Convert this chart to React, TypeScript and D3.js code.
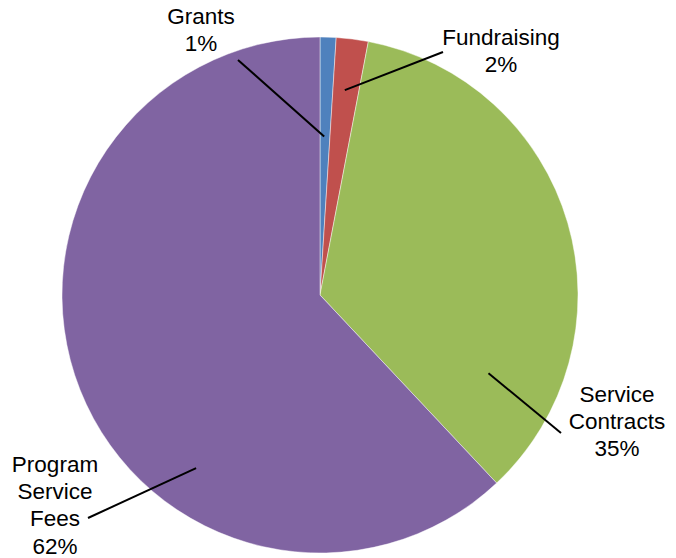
import React from "react";
import * as d3 from "d3";

// Revenue sources, in pie order (clockwise from 12 o'clock)
const categories = ["Grants", "Fundraising", "Service Contracts", "Program Service Fees"];
const values = [1, 2, 35, 62];
const colors = ["#4F81BD", "#C0504D", "#9BBB59", "#8064A2"];

// label text lines (the last line is the percentage)
const labelLines = [["Grants"], ["Fundraising"], ["Service", "Contracts"], ["Program", "Service", "Fees"]];

interface Slice {
  name: string;
  value: number;
}

// manual label placement (Excel style, labels dragged outside)
const labelLayout = [
  { x: 201, y: 24, lineAngle: 1.5, lineR: 0.615, lineEnd: [238, 60] },
  { x: 501, y: 45, lineAngle: 6.9, lineR: 0.8, lineEnd: [443, 52] },
  { x: 617, y: 402, lineAngle: 114.9, lineR: 0.72, lineEnd: [561, 433] },
  { x: 55, y: 472, lineAngle: 215.6, lineR: 0.825, lineEnd: [88, 518] },
];

export default function App() {
  const width = 676;
  const height = 558;
  const cx = 320;
  const cy = 295;
  const radius = 258;

  const data: Slice[] = categories.map((c, i) => ({ name: c, value: values[i] }));
  const total = d3.sum(values);

  const pie = d3
    .pie<Slice>()
    .value((d) => d.value)
    .sort(null);
  const arcs = pie(data);

  const arc = d3.arc<d3.PieArcDatum<Slice>>().innerRadius(0).outerRadius(radius);

  const lineH = 27.2;

  return (
    <svg
      width={width}
      height={height}
      style={{ position: "absolute", left: 0, top: 0, background: "#fff" }}
      fontFamily="'Liberation Sans', Arial, sans-serif"
    >
      <g transform={`translate(${cx},${cy})`}>
        {arcs.map((a, i) => (
          <path
            key={a.data.name}
            d={arc(a) || ""}
            fill={colors[i]}
            stroke="#ffffff"
            strokeOpacity={0.6}
            strokeWidth={0.75}
          />
        ))}
      </g>
      {labelLayout.map((l, i) => {
        const ang = (l.lineAngle * Math.PI) / 180;
        const x1 = cx + Math.sin(ang) * radius * l.lineR;
        const y1 = cy - Math.cos(ang) * radius * l.lineR;
        return (
          <line
            key={"ln" + i}
            x1={x1}
            y1={y1}
            x2={l.lineEnd[0]}
            y2={l.lineEnd[1]}
            stroke="#000"
            strokeWidth={2}
          />
        );
      })}
      {labelLayout.map((l, i) => {
        const pct = d3.format(".0%")(values[i] / total);
        const lines = [...labelLines[i], pct];
        return (
          <text key={"lb" + i} x={l.x} y={l.y} textAnchor="middle" fontSize={22.5} fill="#000">
            {lines.map((t, j) => (
              <tspan key={j} x={l.x} y={l.y + j * lineH}>
                {t}
              </tspan>
            ))}
          </text>
        );
      })}
    </svg>
  );
}
